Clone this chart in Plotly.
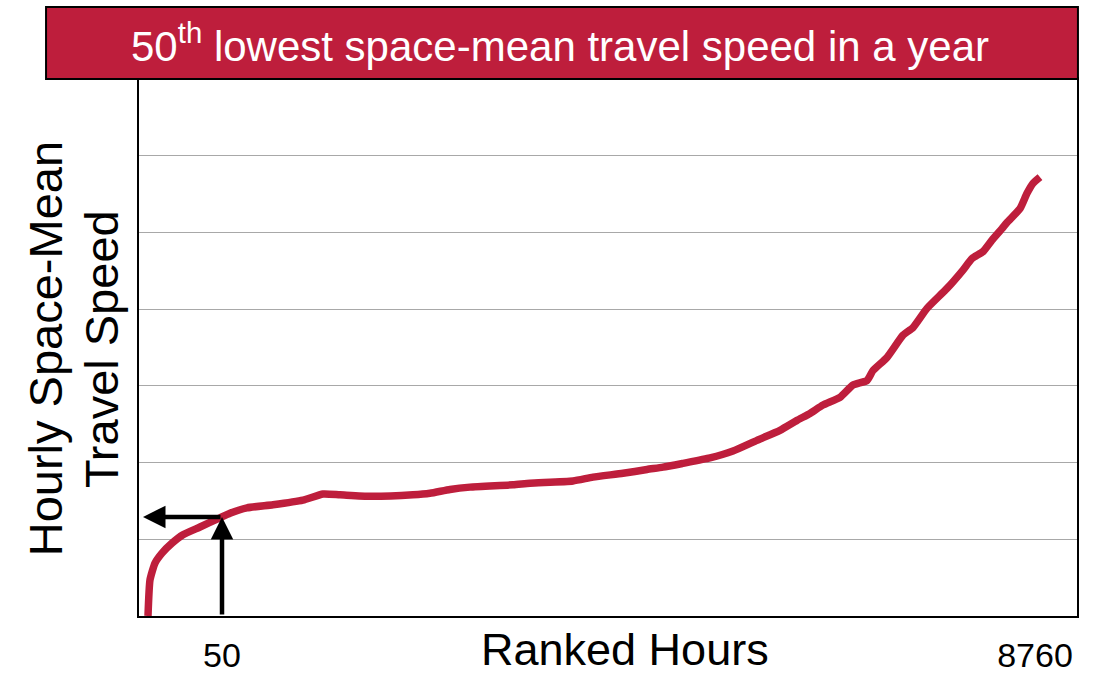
import numpy as np
import plotly.graph_objects as go

# Ranked hourly speed curve (position along the ranked-hours axis, speed in grid units)
rank_pos = [9, 11, 16, 23, 33, 44, 61, 81, 91, 108,
            134, 164, 184, 201, 231, 274, 291, 311, 331, 374,
            391, 434, 454, 484, 508, 524, 544, 571, 594, 618,
            641, 658, 671, 684, 701, 714, 728, 734, 748, 764,
            774, 788, 808, 824, 833, 844, 853, 863, 868, 881,
            888, 894, 901]
speed = [0.0, 0.47, 0.69, 0.82, 0.95, 1.06, 1.16, 1.28, 1.34, 1.41,
         1.45, 1.51, 1.59, 1.58, 1.56, 1.58, 1.60, 1.65, 1.68, 1.71,
         1.73, 1.76, 1.81, 1.86, 1.91, 1.94, 1.99, 2.06, 2.15, 2.29,
         2.42, 2.55, 2.64, 2.75, 2.85, 3.01, 3.07, 3.20, 3.37, 3.66,
         3.76, 4.01, 4.27, 4.51, 4.66, 4.75, 4.90, 5.05, 5.13, 5.31,
         5.51, 5.64, 5.72]

tick_pos = [83, 896]
tick_text = ["50", "8760"]
grid_levels = [1, 2, 3, 4, 5, 6]
y_title_lines = ["Hourly Space-Mean", "Travel Speed"]

RED = "#BE1E3C"
FONT = "Liberation Sans, Arial, sans-serif"

# the 50th ranked hour and its speed on the curve
rank50_x = tick_pos[0]
rank50_y = float(np.interp(rank50_x, rank_pos, speed))

fig = go.Figure()
fig.add_trace(go.Scatter(
    x=rank_pos, y=speed, mode="lines",
    line=dict(color=RED, width=7.5, shape="spline", smoothing=0.5),
    hoverinfo="skip", showlegend=False,
))

# title banner
fig.add_shape(type="rect", xref="paper", yref="paper",
              x0=-0.0991, x1=1.001, y0=1.0, y1=1.134,
              fillcolor=RED, line=dict(color="black", width=2), layer="above")
fig.add_annotation(xref="paper", yref="paper", x=0.449, y=1.067,
                   xanchor="center", yanchor="middle", showarrow=False,
                   text="50<sup>th</sup> lowest space-mean travel speed in a year",
                   font=dict(family=FONT, size=42, color="white"))

# arrows marking the 50th hour
fig.add_annotation(x=rank50_x, y=rank50_y, ax=rank50_x, ay=0,
                   xref="x", yref="y", axref="x", ayref="y", text="",
                   showarrow=True, arrowhead=2, arrowsize=1.0, arrowwidth=4.5,
                   arrowcolor="black")
fig.add_annotation(x=4, y=rank50_y, ax=rank50_x, ay=rank50_y,
                   xref="x", yref="y", axref="x", ayref="y", text="",
                   showarrow=True, arrowhead=2, arrowsize=1.0, arrowwidth=4.5,
                   arrowcolor="black")

# axis titles
fig.add_annotation(xref="x", yref="paper", x=486, y=-0.063,
                   xanchor="center", yanchor="middle", showarrow=False,
                   text="Ranked Hours",
                   font=dict(family=FONT, size=45, color="black"))
for line_text, line_x in zip(y_title_lines, [-0.1, -0.0405]):
    fig.add_annotation(xref="paper", yref="paper", x=line_x, y=0.497,
                       xanchor="center", yanchor="middle", showarrow=False,
                       textangle=-90, text=line_text,
                       font=dict(family=FONT, size=47, color="black"))

fig.update_layout(
    width=1102, height=674,
    margin=dict(l=139, r=25, t=79, b=58),
    paper_bgcolor="white", plot_bgcolor="white",
    xaxis=dict(range=[0, 938], tickvals=tick_pos, ticktext=tick_text,
               showgrid=False, zeroline=False, showline=True, mirror=True,
               linecolor="black", linewidth=2, ticks="",
               ticklabelstandoff=8, automargin=False,
               tickfont=dict(family=FONT, size=34, color="black")),
    yaxis=dict(range=[0, 7], tickvals=grid_levels, showticklabels=False,
               showgrid=True, gridcolor="#A8A8A8", gridwidth=1.3,
               zeroline=False, showline=True, mirror=True,
               linecolor="black", linewidth=2, ticks="", automargin=False),
)

fig.write_html("out.html")
